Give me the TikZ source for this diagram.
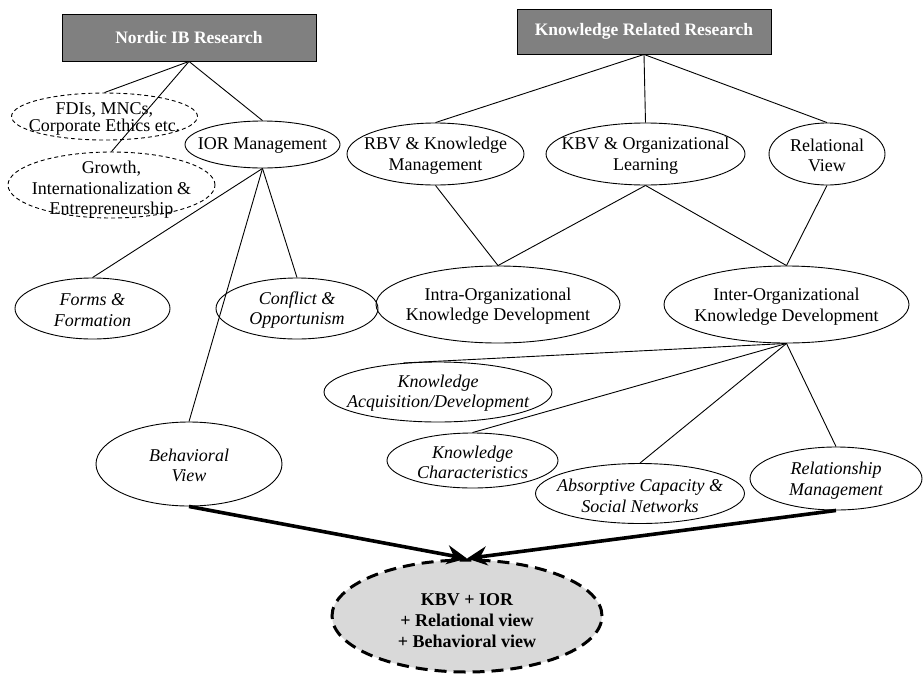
\documentclass[tikz,border=0pt]{standalone}
\usepackage{fontspec}
\setmainfont{Liberation Serif}
\usetikzlibrary{shapes.geometric,arrows.meta}
\definecolor{boxgray}{RGB}{128,128,128}
\definecolor{goalgray}{RGB}{217,217,217}
\begin{document}
\begin{tikzpicture}[x=1pt,y=-1pt,
  ell/.style={ellipse, draw, line width=0.9pt, inner sep=0pt},
  dashell/.style={ell, dash pattern=on 4pt off 3pt},
  txt/.style={align=center, inner sep=0pt, font=\fontsize{18}{20.5}\selectfont},
  itxt/.style={align=center, inner sep=0pt, font=\fontsize{18}{20.5}\selectfont\itshape},
  btxt/.style={align=center, inner sep=0pt, font=\fontsize{18}{21}\selectfont\bfseries},
  head/.style={rectangle, draw, line width=0.9pt, fill=boxgray, text=white,
    font=\fontsize{17.5}{21}\selectfont\bfseries, minimum width=254pt, inner sep=0pt},
  goalbox/.style={ellipse, draw, fill=goalgray, line width=3pt,
    dash pattern=on 12pt off 7pt, inner sep=0pt},
  link/.style={line width=0.9pt},
  flow/.style={line width=3.6pt, -{Stealth[length=20pt,width=19pt]}}
]
\useasboundingbox (0,0) rectangle (923,675);

% research streams
\node[head, minimum height=47pt] (nordic) at (189,37.5) {Nordic IB Research};
\node[head, minimum height=45pt] (krr) at (644,31.5) {Knowledge Related Research};

% Nordic IB branch
\node[dashell, minimum width=186pt, minimum height=47pt] (fdi) at (104.5,116.5) {};
\node[txt, font=\fontsize{18}{15}\selectfont] (fdi-t) at (104.5,119) {FDIs, MNCs,\\Corporate Ethics etc.};
\node[dashell, minimum width=207pt, minimum height=66pt] (growth) at (111.5,185) {};
\node[txt] (growth-t) at (111.5,190) {Growth,\\Internationalization \&\\Entrepreneurship};
\node[ell, minimum width=155pt, minimum height=47pt] (ior) at (262.5,144.5) {};
\node[txt] (ior-t) at (262.5,145) {IOR Management};

\node[ell, minimum width=155pt, minimum height=61pt] (forms) at (92.5,308.5) {};
\node[itxt] (forms-t) at (92.5,310) {Forms \&\\Formation};
\node[ell, minimum width=162pt, minimum height=61pt] (conf) at (297,308.5) {};
\node[itxt] (conf-t) at (297,310) {Conflict \&\\Opportunism};
\node[ell, minimum width=186pt, minimum height=84pt] (beh) at (189,464) {};
\node[itxt] (beh-t) at (189,465.5) {Behavioral\\View};

% knowledge branch
\node[ell, minimum width=177pt, minimum height=62pt] (rbv) at (435.5,154) {};
\node[txt] (rbv-t) at (435.5,155.5) {RBV \& Knowledge\\Management};
\node[ell, minimum width=199pt, minimum height=62pt] (kbv) at (645.5,154) {};
\node[txt] (kbv-t) at (645.5,155.5) {KBV \& Organizational\\Learning};
\node[ell, minimum width=116pt, minimum height=62pt] (rel) at (827,154) {};
\node[txt] (rel-t) at (827,155.5) {Relational\\View};

\node[ell, minimum width=244pt, minimum height=77pt] (intra) at (498,304.5) {};
\node[txt] (intra-t) at (498,306) {Intra-Organizational\\Knowledge Development};
\node[ell, minimum width=245pt, minimum height=77pt] (inter) at (786.5,304.5) {};
\node[txt] (inter-t) at (786.5,306.5) {Inter-Organizational\\Knowledge Development};

\node[ell, minimum width=228pt, minimum height=60pt] (kacq) at (438,392) {};
\node[itxt] (kacq-t) at (438,393) {Knowledge\\Acquisition/Development};
\node[ell, minimum width=171pt, minimum height=55pt] (kchar) at (472.5,460.5) {};
\node[itxt] (kchar-t) at (472.5,462.5) {Knowledge\\Characteristics};
\node[ell, minimum width=209pt, minimum height=60pt] (absorp) at (640,493.5) {};
\node[itxt] (absorp-t) at (640,496) {Absorptive Capacity \&\\Social Networks};
\node[ell, minimum width=172pt, minimum height=63pt] (relm) at (836,478.5) {};
\node[itxt] (relm-t) at (836,480.5) {Relationship\\Management};

% synthesis
\node[goalbox, minimum width=270pt, minimum height=112pt] (goal) at (467,616) {};
\node[btxt] (goal-t) at (467,621) {KBV + IOR\\+ Relational view\\+ Behavioral view};

% tree connectors
\draw[link] (nordic.south) -- (fdi.north);
\draw[link] (nordic.south) -- (growth.north);
\draw[link] (nordic.south) -- (ior.north);
\draw[link] (ior.south) -- (forms.north);
\draw[link] (ior.south) -- (beh.north);
\draw[link] (ior.south) -- (conf.north);

\draw[link] (krr.south) -- (rbv.north);
\draw[link] (krr.south) -- (kbv.north);
\draw[link] (krr.south) -- (rel.north);
\draw[link] (rbv.south) -- (intra.north);
\draw[link] (kbv.south) -- (intra.north);
\draw[link] (kbv.south) -- (inter.north);
\draw[link] (rel.south) -- (inter.north);

\draw[link] (inter.south) -- (kacq.140);
\draw[link] (inter.south) -- (kchar.north);
\draw[link] (inter.south) -- (absorp.north);
\draw[link] (inter.south) -- (relm.north);

% convergence arrows
\draw[flow] (beh.south) -- (goal.north);
\draw[flow] (relm.south) -- (goal.north);
\end{tikzpicture}
\end{document}
